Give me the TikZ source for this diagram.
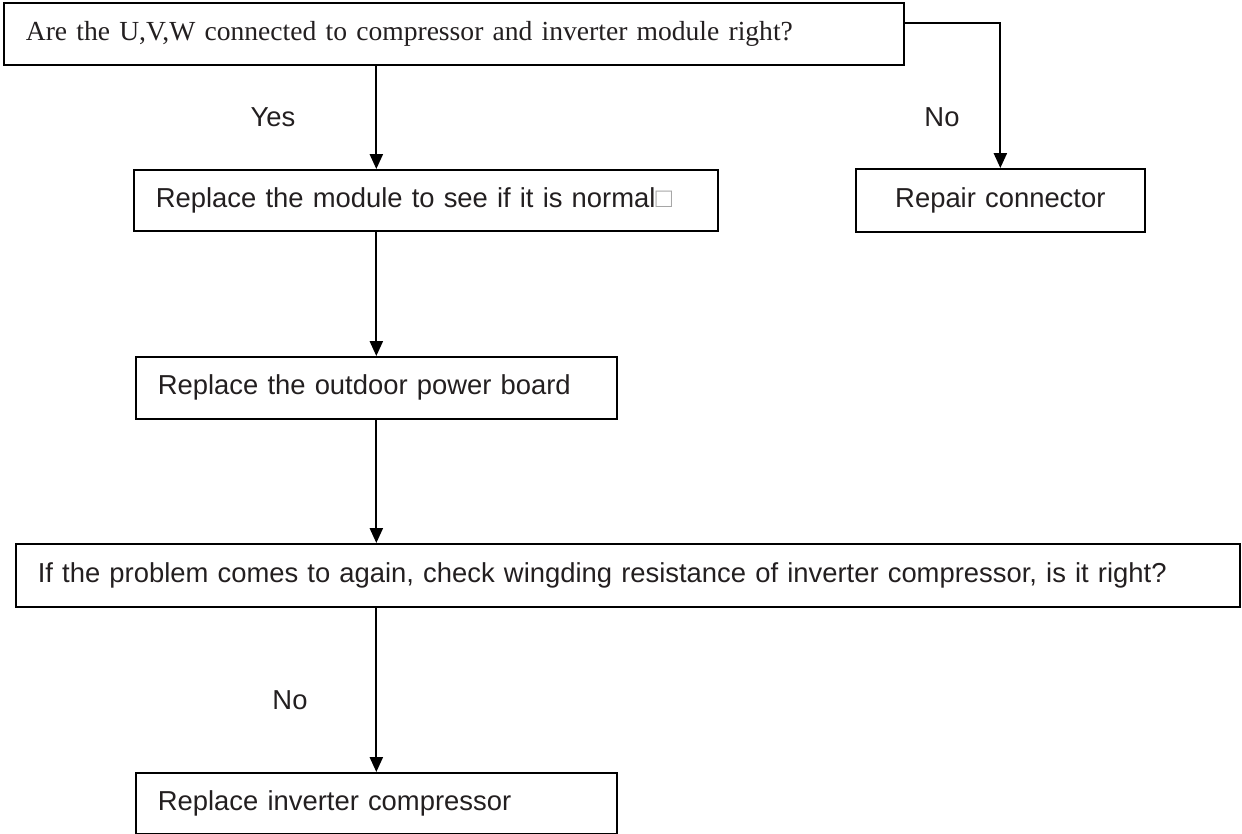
\documentclass[tikz,border=0pt]{standalone}
\usepackage{fontspec}
\setmainfont{Liberation Sans}
\newfontfamily\serifq{Liberation Serif}
\usetikzlibrary{arrows.meta}
\definecolor{ink}{RGB}{35,31,32}
\tikzset{
    stepbox/.style={draw, line width=1pt, anchor=north west, align=left,
        inner xsep=0.44cm, inner ysep=0pt, text=ink,
        font=\fontsize{15.6}{18}\selectfont},
    lbl/.style={text=ink, font=\fontsize{15.6}{18}\selectfont},
    arr/.style={-{Triangle[width=7.5pt,length=8.5pt]}, line width=1pt}
}
\begin{document}
\begin{tikzpicture}[x=0.02cm, y=-0.02cm]
    \useasboundingbox (0,0) rectangle (1242,834);

    % 1. Cau hoi dau tien
    \node[stepbox, text width=17.12cm, minimum height=1.24cm, font=\serifq\fontsize{15.7}{18}\selectfont]
        (q1) at (3,2) {Are the U,V,W connected to compressor and inverter module right?};

    % 2. Cac buoc
    \node[stepbox, text width=10.8cm, minimum height=1.22cm] (b2) at (133,169)
        {Replace the module to see if it is normal{\color{gray!70}□}};
    \node[stepbox, text width=4.9cm, minimum height=1.26cm, align=center] (rep) at (855,168)
        {Repair connector};
    \node[stepbox, text width=8.74cm, minimum height=1.24cm] (b3) at (135,356)
        {Replace the outdoor power board};
    \node[stepbox, text width=23.6cm, minimum height=1.26cm] (b4) at (15,543)
        {If the problem comes to again, check wingding resistance of inverter compressor, is it right?};
    \node[stepbox, text width=8.74cm, minimum height=1.22cm] (b5) at (135,772)
        {Replace inverter compressor};

    % 3. Nhan
    \node[lbl] (yes) at (273,117) {Yes};
    \node[lbl] (no1) at (942,117) {No};
    \node[lbl] (no2) at (290,700) {No};

    % 4. Mui ten
    \coordinate (qr) at (903,23);
    \draw[arr] (q1.south -| b3.north) -- (b2.north -| b3.north);
    \draw[arr] (qr) -| (rep.north);
    \draw[arr] (b2.south -| b3.north) -- (b3.north);
    \draw[arr] (b3.south) -- (b3.south |- b4.north);
    \draw[arr] (b4.south -| b3.south) -- (b5.north -| b3.south);

\end{tikzpicture}
\end{document}
